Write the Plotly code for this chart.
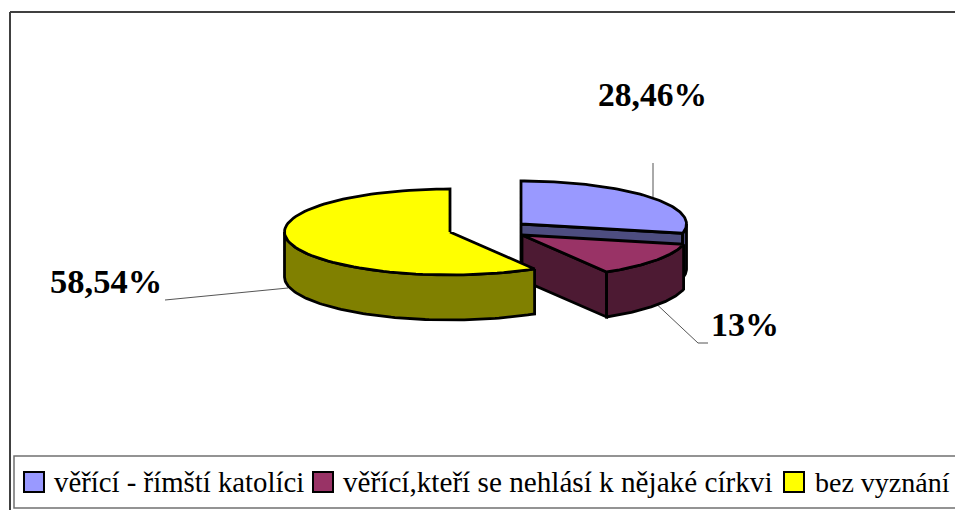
import numpy as np
import plotly.graph_objects as go

# Data
categories = ["věřící - římští katolíci", "věřící,kteří se nehlásí k nějaké církvi", "bez vyznání"]
values = [28.46, 13, 58.54]
value_labels = ["28,46%", "13%", "58,54%"]

# Styles and layout (pixel space of the 955x510 page)
top_colors = ["#9999FF", "#993366", "#FFFF00"]
side_colors = ["#4D4D80", "#4D1A33", "#808000"]
apex = [(521, 224), (522, 235), (450, 232)]
RX, RY, DEPTH = 165.5, 43, 45
label_pos = [(652, 94), (745, 324), (106, 281)]
label_sizes = [33.5, 34, 34.5]
leaders = [[(653, 163), (653, 197)], [(650, 298), (698, 343), (708, 343)], [(165, 300), (288, 288)]]
legend_swatch = [34, 323, 794]
legend_text_x = [52, 341, 813]
legend_sizes = [28.8, 29.2, 28]
LEGEND_Y = 482

fig = go.Figure()


def add_poly(xs, ys, fill):
    fig.add_trace(go.Scatter(x=xs, y=ys, mode="lines", fill="toself", fillcolor=fill,
                             line=dict(color="black", width=2.8), hoverinfo="skip", showlegend=False))


def pt(a, t, depth=0):
    return (a[0] + RX * np.sin(t), a[1] - RY * np.cos(t) + depth)


shares = np.array(values, dtype=float) / sum(values) * 2 * np.pi
bounds = np.concatenate([[0], np.cumsum(shares)])

# leader lines
for seg in leaders:
    fig.add_trace(go.Scatter(x=[p[0] for p in seg], y=[p[1] for p in seg], mode="lines",
                             line=dict(color="#555555", width=1), hoverinfo="skip", showlegend=False))

for i in range(3):
    a = apex[i]
    t0, t1 = bounds[i], bounds[i + 1]
    ts = np.linspace(t0, t1, 90)
    # cut face towards the viewer
    if i < 2:
        e = pt(a, t1)
        add_poly([a[0], e[0], e[0], a[0], a[0]], [a[1], e[1], e[1] + DEPTH, a[1] + DEPTH, a[1]], side_colors[i])
    # outer rim (front-facing part only)
    lo, hi = max(t0, np.pi / 2), min(t1, 3 * np.pi / 2)
    if hi > lo:
        rim = np.linspace(lo, hi, 90)
        top = [pt(a, t) for t in rim]
        bot = [pt(a, t, DEPTH) for t in rim[::-1]]
        pts = top + bot + [top[0]]
        add_poly([p[0] for p in pts], [p[1] for p in pts], side_colors[i])
    # top face
    pts = [a] + [pt(a, t) for t in ts] + [a]
    add_poly([p[0] for p in pts], [p[1] for p in pts], top_colors[i])

# frames
FR = dict(color="#404040", width=2)
fig.add_shape(type="line", x0=10, y0=12, x1=955, y1=12, line=FR, xref="x", yref="y")
fig.add_shape(type="line", x0=10, y0=12, x1=10, y1=510, line=FR, xref="x", yref="y")
LB = dict(color="#707070", width=1.5)
fig.add_shape(type="rect", x0=14, y0=456, x1=960, y1=508, line=LB, xref="x", yref="y")

# value labels
for (x, y), t, s in zip(label_pos, value_labels, label_sizes):
    fig.add_annotation(x=x, y=y, text=f"<b>{t}</b>", showarrow=False, xref="x", yref="y",
                       font=dict(family="Liberation Serif", size=s, color="black"))

# legend
for i, c in enumerate(categories):
    fig.add_trace(go.Scatter(x=[legend_swatch[i]], y=[LEGEND_Y], mode="markers", hoverinfo="skip", showlegend=False,
                             marker=dict(symbol="square", size=20, color=top_colors[i], line=dict(color="black", width=2))))
    fig.add_annotation(x=legend_text_x[i], y=LEGEND_Y, text=c, showarrow=False, xanchor="left", xref="x", yref="y",
                       font=dict(family="Liberation Serif", size=legend_sizes[i], color="black"))

fig.update_layout(width=955, height=510, margin=dict(l=0, r=0, t=0, b=0), paper_bgcolor="white",
                  plot_bgcolor="white", showlegend=False,
                  xaxis=dict(range=[0, 955], visible=False, fixedrange=True),
                  yaxis=dict(range=[510, 0], visible=False, fixedrange=True))
fig.write_html("out.html", config={"displayModeBar": False},
               post_script="document.body.style.margin='0';document.documentElement.style.overflow='hidden';")
